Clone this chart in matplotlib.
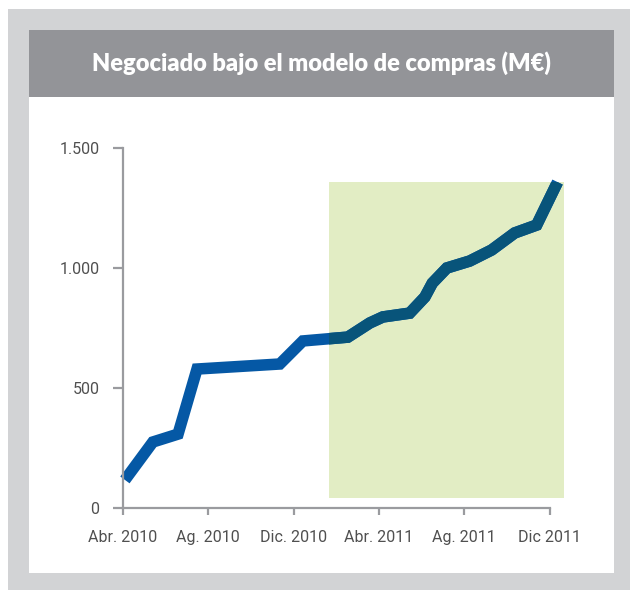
import matplotlib.pyplot as plt
from matplotlib.patches import Rectangle
from matplotlib.ticker import FuncFormatter

# months since Abr. 2010 and negotiated value (M€)
months = [0.09, 1.4, 2.58, 3.47, 7.35, 8.43, 10.54, 11.57, 12.18, 13.44,
          14.15, 14.5, 15.18, 16.25, 17.28, 18.36, 19.39, 20.37]
values = [117, 275, 308, 579, 600, 696, 712, 771, 796, 812,
          879, 937, 1000, 1029, 1075, 1146, 1179, 1358]

tick_pos = [0, 4, 8, 12, 16, 20]
tick_labels = ["Abr. 2010", "Ag. 2010", "Dic. 2010", "Abr. 2011", "Ag. 2011", "Dic 2011"]
y_ticks = [0, 500, 1000, 1500]

# highlighted period
hl_x = (9.65, 20.66)
hl_y = (42, 1358)

W, H = 630, 590
fig = plt.figure(figsize=(W / 100, H / 100), dpi=100)
fig.patch.set_facecolor("white")

def box(x0, y0, x1, y1, color):
    # pixel coords, y measured from top
    fig.patches.append(Rectangle((x0 / W, 1 - y1 / H), (x1 - x0) / W, (y1 - y0) / H,
                                 transform=fig.transFigure, facecolor=color,
                                 edgecolor="none", zorder=-5))

box(8, 9, 630, 590, "#d2d3d5")
box(29, 30, 614, 97, "#939498")
box(29, 97, 614, 573, "white")

fig.text((29 + 614) / 2 / W, 1 - 63 / H, "Negociado bajo el modelo de compras (M€)",
         color="white", fontsize=17, fontweight="heavy", family=["Lato", "DejaVu Sans"],
         ha="center", va="center")

x0, x1 = 123, 571
ax = fig.add_axes([x0 / W, 1 - 508 / H, (x1 - x0) / W, (508 - 148) / H])
ax.set_zorder(5)
ax.set_facecolor("none")
ax.set_xlim(0, 21)
ax.set_ylim(0, 1500)

rect = Rectangle((hl_x[0], hl_y[0]), hl_x[1] - hl_x[0], hl_y[1] - hl_y[0],
                 facecolor="#e2edc4", edgecolor="none", zorder=1)
ax.add_patch(rect)

ax.plot(months, values, color="#0558a5", lw=8.3, solid_joinstyle="miter",
        solid_capstyle="butt", zorder=2, clip_on=False)
dark, = ax.plot(months, values, color="#08547a", lw=8.3, solid_joinstyle="miter",
                solid_capstyle="butt", zorder=3)
dark.set_clip_path(rect)

for s in ["top", "right"]:
    ax.spines[s].set_visible(False)
for s in ["left", "bottom"]:
    ax.spines[s].set_color("#9a9b9f")
    ax.spines[s].set_linewidth(1.6)
ax.spines["bottom"].set_bounds(0, 20)

ax.set_xticks(tick_pos)
ax.set_xticklabels(tick_labels)
ax.set_yticks(y_ticks)
ax.yaxis.set_major_formatter(FuncFormatter(lambda v, p: f"{int(v):,}".replace(",", ".")))
ax.tick_params(axis="x", direction="out", length=5, width=1.6, color="#9a9b9f",
               labelsize=11.5, labelcolor="#505050", pad=11)
ax.tick_params(axis="y", direction="out", length=7, width=1.6, color="#9a9b9f",
               labelsize=11.5, labelcolor="#505050", pad=10)
for lab in ax.get_xticklabels() + ax.get_yticklabels():
    lab.set_family(["Roboto", "DejaVu Sans"])

fig.savefig("out.png", dpi=100)
